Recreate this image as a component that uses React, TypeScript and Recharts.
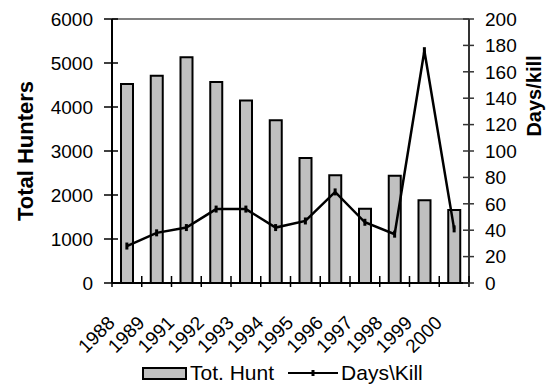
import React from "react";
import {
  ComposedChart,
  Bar,
  Line,
  XAxis,
  YAxis,
  Legend,
  ReferenceLine,
} from "recharts";

const years = ["1988", "1989", "1991", "1992", "1993", "1994", "1995", "1996", "1997", "1998", "1999", "2000"];
const totalHunters = [4520, 4710, 5130, 4570, 4150, 3700, 2840, 2450, 1690, 2440, 1880, 1660];
const daysPerKill = [28, 38, 42, 56, 56, 42, 47, 69, 46, 37, 176, 41];
const hunterTicks = [0, 1000, 2000, 3000, 4000, 5000, 6000];
const daysTicks = [0, 20, 40, 60, 80, 100, 120, 140, 160, 180, 200];

const data = years.map((year, i) => ({
  year,
  hunt: totalHunters[i],
  days: daysPerKill[i],
}));

const FONT = '"Liberation Sans", Arial, Helvetica, sans-serif';
const TICK_FONT = 19;

const LEFT_MARGIN = 19;
const RIGHT_MARGIN = 16;
const BOTTOM_MARGIN = 10;

const LeftTick = (props: any) => {
  const { x, y, payload } = props;
  const axisX = x + LEFT_MARGIN;
  return (
    <g>
      <line x1={axisX - 8} x2={axisX + 6} y1={y} y2={y} stroke="#000" strokeWidth={1.5} />
      <text x={x} y={y} dy="0.36em" textAnchor="end" fontFamily={FONT} fontSize={TICK_FONT} fill="#000">
        {payload.value}
      </text>
    </g>
  );
};

const RightTick = (props: any) => {
  const { x, y, payload } = props;
  const axisX = x - RIGHT_MARGIN;
  return (
    <g>
      <line x1={axisX - 6} x2={axisX + 5} y1={y} y2={y} stroke="#333" strokeWidth={1.5} />
      <text x={x} y={y} dy="0.36em" textAnchor="start" fontFamily={FONT} fontSize={TICK_FONT} fill="#000">
        {payload.value}
      </text>
    </g>
  );
};

const BottomTick = (props: any) => {
  const { x, y, payload, index, width, visibleTicksCount } = props;
  const axisY = y - BOTTOM_MARGIN;
  const band = width / visibleTicksCount;
  const lx = x - 11;
  const ly = axisY + 41;
  return (
    <g>
      {index === 0 && (
        <line x1={x - band / 2} x2={x - band / 2} y1={axisY - 7} y2={axisY + 4} stroke="#000" strokeWidth={1.5} />
      )}
      <line x1={x + band / 2} x2={x + band / 2} y1={axisY - 7} y2={axisY + 4} stroke="#000" strokeWidth={1.5} />
      <text
        x={lx}
        y={ly}
        textAnchor="end"
        transform={`rotate(-45, ${lx}, ${ly})`}
        fontFamily={FONT}
        fontSize={TICK_FONT}
        fill="#000"
      >
        {payload.value}
      </text>
    </g>
  );
};

const PlusDot = (props: any) => {
  const { cx, cy, index } = props;
  return <line key={`pd-${index}`} x1={cx} x2={cx} y1={cy - 3.5} y2={cy + 3.5} stroke="#000" strokeWidth={3} />;
};

const LeftTitle = (props: any) => {
  const { viewBox } = props;
  const x = viewBox.x + 25;
  const y = viewBox.y + viewBox.height / 2;
  return (
    <text
      x={x}
      y={y}
      dy="0.36em"
      textAnchor="middle"
      transform={`rotate(-90, ${x}, ${y})`}
      fontFamily={FONT}
      fontSize={22}
      fontWeight="bold"
      fill="#000"
    >
      Total Hunters
    </text>
  );
};

const RightTitle = (props: any) => {
  const { viewBox } = props;
  const x = viewBox.x + 65;
  const y = viewBox.y + 77;
  return (
    <text
      x={x}
      y={y}
      dy="0.36em"
      textAnchor="middle"
      transform={`rotate(-90, ${x}, ${y})`}
      fontFamily={FONT}
      fontSize={20}
      fontWeight="bold"
      fill="#000"
    >
      Days/kill
    </text>
  );
};

const LegendContent = (props: any) => {
  const items = props.payload || [];
  const bar = items.find((p: any) => p.dataKey === "hunt");
  const line = items.find((p: any) => p.dataKey === "days");
  return (
    <div
      style={{
        display: "flex",
        alignItems: "center",
        height: 24,
        lineHeight: "24px",
        paddingLeft: 142,
        fontFamily: FONT,
        fontSize: 21,
        color: "#000",
        whiteSpace: "nowrap",
        boxSizing: "border-box",
      }}
    >
      <span
        style={{
          display: "inline-block",
          width: 45,
          height: 13,
          boxSizing: "border-box",
          border: "2px solid #000",
          background: "#c0c0c0",
          marginRight: 3,
        }}
      />
      <span>{bar ? bar.value : ""}</span>
      <svg width={50} height={14} style={{ marginLeft: 14, marginRight: 3 }}>
        <line x1={0} x2={50} y1={7} y2={7} stroke="#000" strokeWidth={2} />
        <line x1={25} x2={25} y1={4} y2={10} stroke="#000" strokeWidth={3} />
      </svg>
      <span>{line ? line.value : ""}</span>
    </div>
  );
};

export default function App() {
  return (
    <div style={{ position: "absolute", left: 0, top: 0, width: 552, height: 384, background: "#fff" }}>
      <ComposedChart width={552} height={384} data={data} margin={{ top: 19, right: 0, bottom: 0, left: 0 }}>
        <XAxis
          dataKey="year"
          type="category"
          xAxisId="x"
          height={77}
          interval={0}
          tickLine={false}
          tickSize={0}
          tickMargin={BOTTOM_MARGIN}
          tick={<BottomTick />}
          axisLine={{ stroke: "#000", strokeWidth: 2 }}
        />
        <YAxis
          yAxisId="hunters"
          orientation="left"
          width={112}
          domain={[0, 6000]}
          ticks={hunterTicks}
          interval={0}
          tickLine={false}
          tickSize={0}
          tickMargin={LEFT_MARGIN}
          tick={<LeftTick />}
          axisLine={{ stroke: "#000", strokeWidth: 2 }}
          label={<LeftTitle />}
        />
        <YAxis
          yAxisId="days"
          orientation="right"
          width={83}
          domain={[0, 200]}
          ticks={daysTicks}
          interval={0}
          tickLine={false}
          tickSize={0}
          tickMargin={RIGHT_MARGIN}
          tick={<RightTick />}
          axisLine={{ stroke: "#333", strokeWidth: 2 }}
          label={<RightTitle />}
        />
        <ReferenceLine xAxisId="x" yAxisId="hunters" y={6000} stroke="#808080" strokeWidth={2} />
        <Bar
          xAxisId="x"
          yAxisId="hunters"
          dataKey="hunt"
          name="Tot. Hunt"
          fill="#c0c0c0"
          stroke="#000"
          strokeWidth={2}
          barSize={12}
          isAnimationActive={false}
        />
        <Line
          xAxisId="x"
          yAxisId="days"
          dataKey="days"
          name="Days\Kill"
          type="linear"
          stroke="#000"
          strokeWidth={2.5}
          dot={PlusDot}
          activeDot={false}
          isAnimationActive={false}
        />
        <Legend
          verticalAlign="bottom"
          align="left"
          content={<LegendContent />}
          wrapperStyle={{ left: 0, top: 361, bottom: "auto", width: 552, height: 24 }}
        />
      </ComposedChart>
    </div>
  );
}
